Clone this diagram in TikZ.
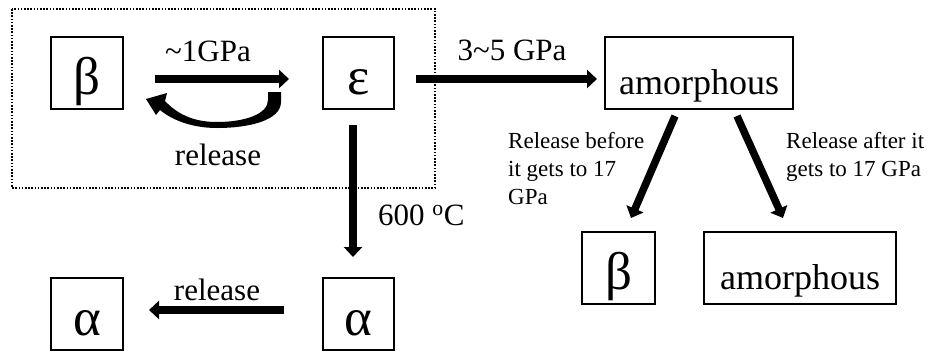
\documentclass[tikz,border=0pt]{standalone}
\usepackage{fontspec}
\setmainfont{Liberation Serif}
\usetikzlibrary{arrows.meta,calc}
\begin{document}
\begin{tikzpicture}[x=1pt,y=-1pt,
  box/.style={draw,line width=2pt,inner sep=0pt,text height=57pt,text depth=15pt},
  gk/.style={font=\fontsize{53}{56}\selectfont},
  am/.style={font=\fontsize{36}{40}\selectfont},
  lbl/.style={font=\fontsize{31}{36}\selectfont,inner sep=0pt},
  sml/.style={font=\fontsize{23}{28}\selectfont,inner sep=0pt,align=left},
  arr/.style={line width=7.5pt,-{Triangle[width=18pt,length=10pt]}},
  frame/.style={line width=1.8pt,dash pattern=on 1.6pt off 1.6pt}]
\useasboundingbox (0,0) rectangle (933,351);
\clip (0,0) rectangle (933,351);
\fill[white] (0,0) rectangle (933,351);
% dotted frame
\draw[frame] (12,9) rectangle (435,188);
% boxes
\node[box,gk,minimum width=72pt] (b1) at (87,73) {β};
\node[box,gk,minimum width=71pt] (eps) at (358.5,73) {ε};
\node[box,am,minimum width=188pt] (am1) at (699,73) {amorphous};
\node[box,gk,minimum width=72pt] (a1) at (87,314) {α};
\node[box,gk,minimum width=71pt] (a2) at (358.5,314) {α};
\node[box,gk,minimum width=73pt] (b2) at (618.5,268) {β};
\node[box,am,minimum width=192pt] (am2) at (800,268) {amorphous};
% arrows
\draw[arr,shorten <=31pt,shorten >=33pt] ([yshift=-6pt]b1.east) -- ([yshift=-6pt]eps.west);
\node[lbl,anchor=base] (l1) at (208,61) {\textasciitilde1GPa};
\fill (146,99) -- (167,93) -- (165,101) .. controls (180,117) and (198,122) .. (217,122)
  .. controls (245,122) and (268,114) .. (268,100) -- (268,92) -- (281,92) -- (281,102)
  .. controls (281,120) and (250,128) .. (217,128) .. controls (192,128) and (172,120) .. (160,110)
  -- (156,115) -- cycle;
\node[lbl,anchor=base] (l2) at (218,165) {release};
\draw[arr,shorten <=21pt,shorten >=7pt] ([yshift=-6pt]eps.east) -- ([yshift=-6pt]am1.west);
\node[lbl,anchor=base] (l3) at (512,60) {3\textasciitilde5 GPa};
\draw[arr,shorten <=15pt,shorten >=20pt] ([xshift=-5.5pt]eps.south) -- ([xshift=-5.5pt]a2.north);
\node[lbl,anchor=base west] (l4) at (378,225) {600 \textsuperscript{o}C};
\draw[arr,shorten <=38pt,shorten >=25pt] ([yshift=4pt]a2.west) -- ([yshift=4pt]a1.east);
\node[lbl,anchor=base] (l5) at (217,300) {release};
\draw[arr] ($(am1.south)+(-24,6)$) -- ($(b2.north)+(12.5,-13)$);
\draw[arr] ($(am1.south)+(38,6)$) -- ($(am2.north)+(-17,-13)$);
\node[sml,anchor=north west] (l6) at (508,132) {Release before\\it gets to 17\\GPa};
\node[sml,anchor=north west] (l7) at (786,132) {Release after it\\gets to 17 GPa};
\end{tikzpicture}
\end{document}
